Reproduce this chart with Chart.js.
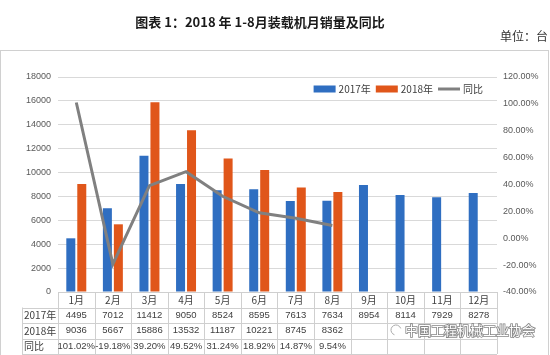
<!DOCTYPE html>
<html><head><meta charset="utf-8">
<script src="https://cdn.jsdelivr.net/npm/chart.js@4/dist/chart.umd.min.js"></script>
<style>html,body{margin:0;padding:0;background:#fff}#wrap{width:550px;height:355px;position:relative}</style>
</head><body><div id="wrap"><canvas id="c" width="550" height="355"></canvas></div>
<script>
const months = ['1月','2月','3月','4月','5月','6月','7月','8月','9月','10月','11月','12月'];
const sales2017 = [4495,7012,11412,9050,8524,8595,7613,7634,8954,8114,7929,8278];
const sales2018 = [9036,5667,15886,13532,11187,10221,8745,8362];
const yoy = [101.02,-19.18,39.20,49.52,31.24,18.92,14.87,9.54];
const seriesNames = ['2017年','2018年','同比'];
const rowLabels = ['2017年','2018年','同比'];
const titleText = '图表 1：2018 年 1-8月装载机月销量及同比';
const unitText = '单位：台';
const watermark = '中国工程机械工业协会';

const BLUE = '#2F6EC1', ORANGE = '#E0561A', GRAY = '#808080';
const CJK = '"Noto Sans CJK SC", "Liberation Sans", sans-serif';
const NUM = '"Liberation Sans", "Noto Sans CJK SC", sans-serif';

const decor = {
  id: 'decor',
  beforeDraw(chart) {
    const ctx = chart.ctx;
    ctx.save();
    ctx.strokeStyle = '#d0d0d0'; ctx.lineWidth = 1;
    ctx.strokeRect(0.5, 50.5, 548, 320);
    ctx.fillStyle = '#1a1a1a';
    ctx.font = 'bold 13px ' + CJK;
    ctx.textAlign = 'center'; ctx.textBaseline = 'middle';
    ctx.fillText(titleText, 260, 22);
    ctx.font = '12px ' + CJK;
    ctx.textAlign = 'right';
    ctx.fillStyle = '#333';
    ctx.fillText(unitText, 548, 36);
    ctx.restore();
  },
  afterDraw(chart) {
    const ctx = chart.ctx, xs = chart.scales.x;
    const n = months.length;
    const cw = (xs.right - xs.left) / n;
    const top = chart.chartArea.bottom;
    const rh = 15.5;
    const labelLeft = 22;
    ctx.save();
    // legend (from dataset labels and colours)
    const ds = chart.data.datasets;
    ctx.font = '10px ' + CJK;
    ctx.textBaseline = 'middle';
    ctx.textAlign = 'left';
    const legY = chart.chartArea.top + 12;
    let total = 0;
    ds.forEach((d, i) => { total += 22 + 3 + ctx.measureText(d.label).width + (i < ds.length - 1 ? 5 : 0); });
    let lx = 483 - total;
    ds.forEach((d, i) => {
      if (d.type === 'line') {
        ctx.strokeStyle = d.borderColor; ctx.lineWidth = d.borderWidth;
        ctx.beginPath(); ctx.moveTo(lx, legY); ctx.lineTo(lx + 22, legY); ctx.stroke();
      } else {
        ctx.fillStyle = d.backgroundColor;
        ctx.fillRect(lx, legY - 3.5, 22, 7);
      }
      lx += 25;
      ctx.fillStyle = '#404040';
      ctx.fillText(d.label, lx, legY);
      lx += ctx.measureText(d.label).width + 5;
    });
    // table
    ctx.strokeStyle = '#cfcfcf'; ctx.lineWidth = 1;
    ctx.beginPath();
    ctx.moveTo(xs.left, top + 0.5); ctx.lineTo(xs.right, top + 0.5);
    for (let r = 1; r <= 4; r++) {
      const y = Math.round(top + r * rh) + 0.5;
      ctx.moveTo(labelLeft, y); ctx.lineTo(xs.right, y);
    }
    for (let i = 0; i <= n; i++) {
      const x = Math.round(xs.getPixelForValue(i) - cw / 2) + 0.5;
      ctx.moveTo(x, top); ctx.lineTo(x, top + 4 * rh);
    }
    ctx.moveTo(labelLeft + 0.5, top + rh); ctx.lineTo(labelLeft + 0.5, top + 4 * rh);
    ctx.stroke();
    ctx.textBaseline = 'middle';
    ctx.fillStyle = '#404040';
    const rows = [sales2017.map(String), sales2018.map(String), yoy.map(v => v.toFixed(2) + '%')];
    rows.forEach((vals, r) => {
      const y = top + (r + 1.5) * rh;
      ctx.font = '10px ' + CJK;
      ctx.textAlign = 'left';
      ctx.fillText(rowLabels[r], labelLeft + 2, y);
      ctx.font = (r === 2 ? '9.5px ' : '9.5px ') + NUM;
      ctx.textAlign = 'center';
      vals.forEach((v, i) => ctx.fillText(v, xs.getPixelForValue(i), y));
    });
    // watermark
    ctx.font = '13px ' + CJK;
    ctx.textAlign = 'left';
    ctx.lineWidth = 1.6;
    ctx.strokeStyle = 'rgba(120,120,120,0.9)';
    ctx.strokeText(watermark, 405, 330);
    ctx.fillStyle = '#ffffff';
    ctx.fillText(watermark, 405, 330);
    ctx.beginPath();
    ctx.strokeStyle = '#aaa'; ctx.lineWidth = 1;
    ctx.arc(396, 330, 5, Math.PI * 0.6, Math.PI * 1.9);
    ctx.stroke();
    ctx.restore();
  }
};

new Chart(document.getElementById('c'), {
  type: 'bar',
  data: {
    labels: months,
    datasets: [
      { label: seriesNames[0], data: sales2017, backgroundColor: BLUE, yAxisID: 'y', order: 1,
        categoryPercentage: 0.6, barPercentage: 0.82 },
      { label: seriesNames[1], data: sales2018, backgroundColor: ORANGE, yAxisID: 'y', order: 1,
        categoryPercentage: 0.6, barPercentage: 0.82 },
      { type: 'line', label: seriesNames[2], data: yoy, borderColor: GRAY, backgroundColor: GRAY,
        borderWidth: 3, pointRadius: 0, tension: 0, yAxisID: 'y1', order: 0 }
    ]
  },
  options: {
    responsive: false, animation: false, devicePixelRatio: 1,
    layout: { padding: { top: 77, left: 0, right: 0, bottom: 47.5 } },
    plugins: {
      legend: { display: false },
      tooltip: { enabled: false },
      title: { display: false }
    },
    scales: {
      x: {
        grid: { display: false, drawTicks: false },
        border: { display: false },
        ticks: { color: '#404040', font: { size: 10, family: CJK }, padding: 2, maxRotation: 0, autoSkip: false },
        afterFit(s) { s.height = 15.5; }
      },
      y: {
        position: 'left', min: 0, max: 18000,
        ticks: { stepSize: 2000, color: '#595959', font: { size: 9, family: NUM }, padding: 7,
          callback: v => String(v) },
        grid: { color: '#d9d9d9', drawTicks: false },
        border: { display: false },
        afterFit(s) { s.width = 58; }
      },
      y1: {
        position: 'right', min: -40, max: 120,
        ticks: { stepSize: 20, color: '#595959', font: { size: 9, family: NUM }, padding: 6,
          callback: v => v.toFixed(2) + '%' },
        grid: { display: false, drawTicks: false },
        border: { display: false },
        afterFit(s) { s.width = 53; }
      }
    }
  },
  plugins: [decor]
});
</script></body></html>
